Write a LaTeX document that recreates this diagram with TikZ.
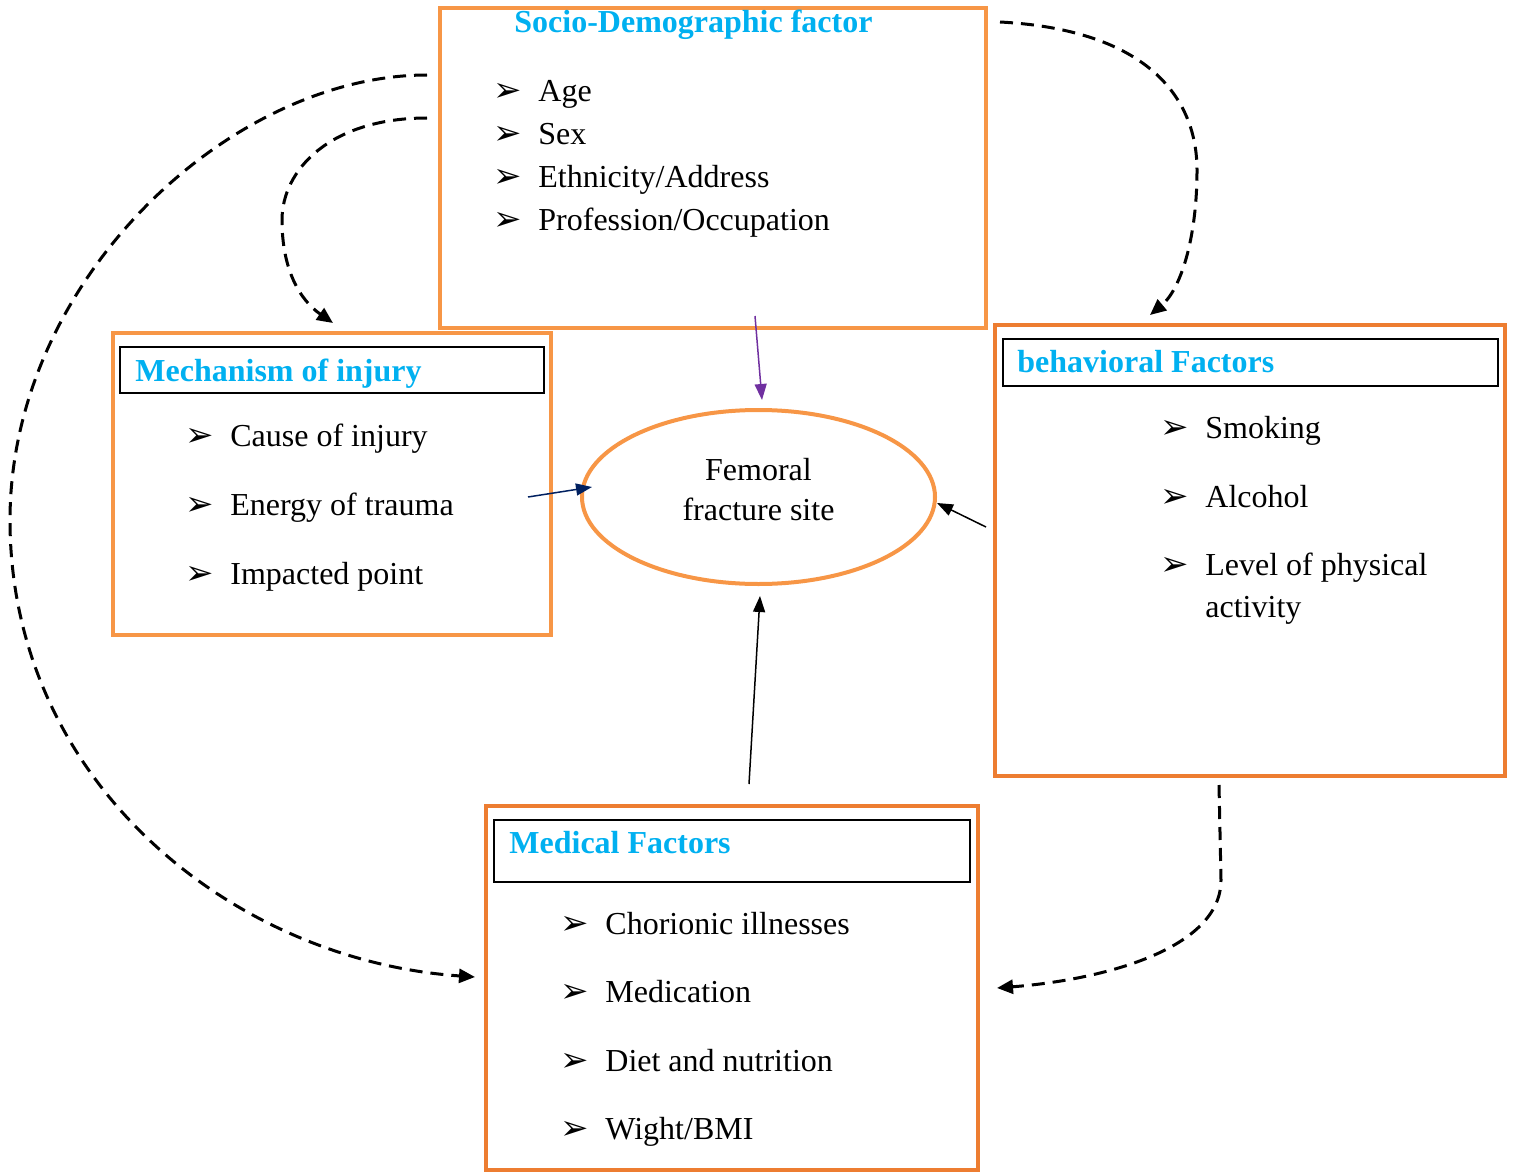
\documentclass[tikz,border=0pt]{standalone}
\usepackage{fontspec}
\setmainfont{Liberation Serif}
\newfontfamily\symf{DejaVu Sans}
\usetikzlibrary{arrows.meta,shapes.geometric}

\definecolor{lightor}{HTML}{F79646}
\definecolor{darkor}{HTML}{ED7D31}
\definecolor{ttlblue}{HTML}{00B0F0}
\definecolor{arrpurple}{HTML}{7030A0}
\definecolor{arrnavy}{HTML}{002060}

\newcommand{\bul}{\makebox[22.5pt][l]{\symf\fontsize{17}{17}\selectfont ➢}}

\begin{document}
\begin{tikzpicture}[x=0.5pt,y=-0.5pt,
        font=\fontsize{16}{21}\selectfont,
        obox/.style={draw=lightor, line width=2pt, inner sep=0pt},
        dbox/.style={draw=darkor, line width=2pt, inner sep=0pt},
        tbox/.style={draw=black, line width=1pt, inner sep=0pt},
        ttl/.style={anchor=base west, inner sep=0pt, text=ttlblue, font=\fontsize{16}{21}\selectfont\bfseries},
        itm/.style={anchor=base west, inner sep=0pt},
        dashlink/.style={line width=1.5pt, dash pattern=on 6.5pt off 4pt, -{Triangle[length=8pt,width=7pt]}},
        thinlink/.style={line width=0.75pt, -{Triangle[length=8pt,width=6pt]}}]
            \useasboundingbox (0,0) rectangle (1515,1172);

            % boxes
            \node[obox, minimum width=273pt, minimum height=160pt] (socio) at (713,168) {};
            \node[obox, minimum width=219pt, minimum height=151pt] (mech) at (332,484) {};
            \node[tbox, minimum width=212pt, minimum height=23pt] (mechttl) at (332,370) {};
            \node[dbox, minimum width=255pt, minimum height=225.5pt] (behav) at (1250,550.5) {};
            \node[tbox, minimum width=247.5pt, minimum height=23.5pt] (behavttl) at (1250.5,362.5) {};
            \node[dbox, minimum width=246pt, minimum height=182pt] (medic) at (732,988) {};
            \node[tbox, minimum width=238pt, minimum height=31pt] (medicttl) at (732,851) {};
            \node[draw=lightor, line width=2pt, ellipse, minimum width=176.5pt, minimum height=87pt,
                  inner sep=0pt, align=center, font=\fontsize{16}{20}\selectfont]
                  (site) at (758.5,497) {Femoral\\fracture site\\[-12pt]\mbox{}};

            % socio-demographic
            \node[ttl] (sociot) at (514,33) {Socio-Demographic factor};
            \node[itm] (age) at (493,102) {\bul Age};
            \node[itm] (sex) at (493,145) {\bul Sex};
            \node[itm] (ethn) at (493,187) {\bul Ethnicity/Address};
            \node[itm] (prof) at (493,230) {\bul Profession/Occupation};

            % mechanism
            \node[ttl] (mecht) at (135,381) {Mechanism of injury};
            \node[itm] (cause) at (185,446) {\bul Cause of injury};
            \node[itm] (energy) at (185,515) {\bul Energy of trauma};
            \node[itm] (impact) at (185,584) {\bul Impacted point};

            % behavioral
            \node[ttl] (behavt) at (1017,372) {behavioral Factors};
            \node[itm] (smok) at (1160,438) {\bul Smoking};
            \node[itm] (alco) at (1160,507) {\bul Alcohol};
            \node[itm] (phys) at (1160,575) {\bul Level of physical};
            \node[itm] (physb) at (1205,617) {activity};

            % medical
            \node[ttl] (medict) at (509,853) {Medical Factors};
            \node[itm] (chron) at (560,934) {\bul Chorionic illnesses};
            \node[itm] (medi) at (560,1002) {\bul Medication};
            \node[itm] (diet) at (560,1071) {\bul Diet and nutrition};
            \node[itm] (bmi) at (560,1139) {\bul Wight/BMI};

            % connector ends
            \coordinate (soA) at (427,75);
            \coordinate (soB) at (427,118);
            \coordinate (soC) at (1000,22);
            \coordinate (soD) at (755,316);
            \coordinate (meA) at (333,323);
            \coordinate (meB) at (528,497);
            \coordinate (bhA) at (1150,315);
            \coordinate (bhB) at (1219,785);
            \coordinate (bhC) at (986,527);
            \coordinate (mdA) at (475,977);
            \coordinate (mdB) at (997,988);
            \coordinate (mdC) at (749,784);
            \coordinate (stT) at (762,400);
            \coordinate (stL) at (592,487);
            \coordinate (stR) at (937,503);
            \coordinate (stB) at (760,596);

            % dashed links
            \draw[dashlink] (soA) .. controls (230,75) and (10,280) .. (10,520)
                                  .. controls (10,780) and (230,960) .. (mdA);
            \draw[dashlink] (soB) .. controls (330,118) and (282,170) .. (282,220)
                                  .. controls (282,270) and (300,300) .. (meA);
            \draw[dashlink] (soC) .. controls (1150,30) and (1197,100) .. (1197,170)
                                  .. controls (1197,240) and (1180,290) .. (bhA);
            \draw[dashlink] (bhB) -- (1221,880) .. controls (1221,950) and (1100,980) .. (mdB);

            % solid links
            \draw[thinlink, arrpurple] (soD) -- (stT);
            \draw[thinlink, arrnavy] (meB) -- (stL);
            \draw[thinlink, black] (bhC) -- (stR);
            \draw[thinlink, black] (mdC) -- (stB);
        \end{tikzpicture}
\end{document}
